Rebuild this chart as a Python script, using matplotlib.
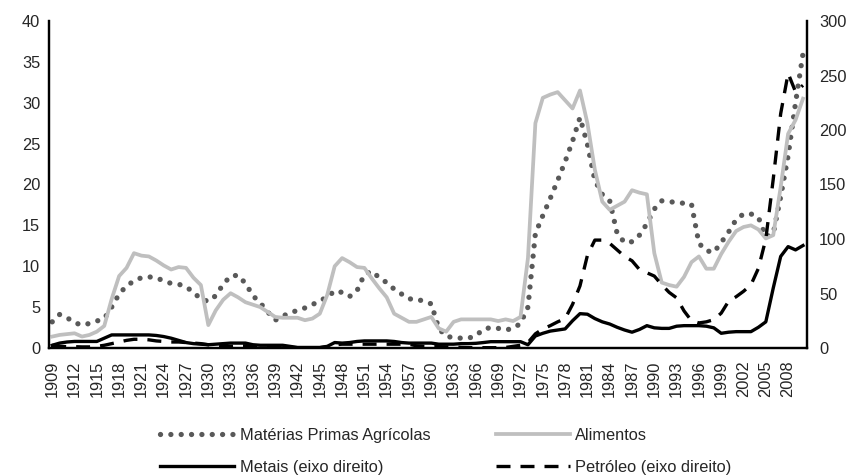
import matplotlib
matplotlib.use("Agg")
import matplotlib.pyplot as plt
from matplotlib.lines import Line2D
import numpy as np

plt.rcParams['font.family'] = ['Liberation Sans', 'DejaVu Sans']

years = list(range(1909, 2011))

materias = [3.2, 4.1, 3.7, 3.1, 2.8, 3.0, 3.3, 3.6, 5.0, 6.6,
            7.6, 8.2, 8.6, 8.7, 8.6, 8.2, 7.9, 7.8, 7.5, 6.8,
            6.0, 5.7, 6.4, 7.8, 8.8, 8.9, 7.9, 6.4, 5.5, 4.4,
            3.4, 3.9, 4.3, 4.6, 4.9, 5.3, 5.8, 6.2, 7.0, 6.8,
            6.3, 7.0, 9.0, 9.4, 8.6, 8.0, 7.2, 6.6, 6.0, 6.0,
            5.7, 5.4, 2.4, 1.4, 1.3, 1.2, 1.2, 1.5, 2.3, 2.5,
            2.4, 2.2, 2.4, 3.0, 5.0, 14.0, 16.2, 18.3, 20.5, 22.8,
            25.3, 28.2, 24.9, 20.5, 18.8, 18.0, 14.0, 12.9, 13.0, 13.8,
            15.2, 17.0, 18.0, 17.9, 17.8, 17.7, 17.6, 12.8, 11.9, 11.7,
            12.9, 14.2, 15.7, 16.4, 16.4, 16.0, 13.6, 14.0, 18.5, 23.5,
            30.0, 36.0]

alimentos = [1.4, 1.6, 1.7, 1.8, 1.4, 1.6, 2.0, 2.7, 6.0, 8.8,
             9.8, 11.6, 11.3, 11.2, 10.7, 10.1, 9.6, 9.9, 9.8, 8.6,
             7.7, 2.8, 4.6, 5.9, 6.7, 6.2, 5.6, 5.3, 5.0, 4.4,
             3.8, 3.7, 3.7, 3.7, 3.4, 3.6, 4.2, 6.5, 10.0, 11.0,
             10.5, 9.9, 9.8, 8.5, 7.3, 6.2, 4.2, 3.7, 3.2, 3.2,
             3.5, 3.8, 2.4, 2.0, 3.2, 3.5, 3.5, 3.5, 3.5, 3.5,
             3.3, 3.5, 3.3, 3.8, 11.0, 27.5, 30.6, 31.0, 31.3, 30.3,
             29.3, 31.5, 27.5, 21.8, 17.9, 16.9, 17.4, 17.9, 19.3, 19.0,
             18.8, 11.6, 8.0, 7.7, 7.5, 8.7, 10.5, 11.2, 9.7, 9.7,
             11.5, 13.0, 14.3, 14.8, 15.0, 14.5, 13.4, 13.8, 19.7, 26.2,
             27.9, 30.5]

metais = [2.5, 4.5, 5.5, 6.0, 6.0, 6.0, 6.0, 9.0, 12.0, 12.0,
          12.0, 12.0, 12.0, 12.0, 11.5, 10.5, 9.0, 7.0, 5.0, 4.0,
          3.5, 3.0, 3.5, 4.0, 4.5, 4.5, 4.5, 3.0, 2.5, 2.5,
          2.5, 2.5, 1.5, 0.5, 0.5, 0.5, 0.5, 1.5, 5.0, 4.5,
          5.0, 6.0, 6.5, 6.5, 6.5, 6.5, 6.0, 5.0, 4.5, 4.5,
          4.5, 4.5, 3.5, 3.5, 3.5, 4.0, 4.0, 4.3, 5.0, 5.8,
          5.8, 5.8, 5.8, 5.8, 3.0, 11.0, 13.5, 15.5, 16.5, 17.5,
          25.0, 31.5, 31.0, 27.0, 24.0, 22.0, 19.0, 16.5, 14.5, 17.0,
          20.5, 18.5, 18.0, 18.0, 20.0, 20.5, 20.5, 20.5, 20.0, 18.5,
          13.5, 14.5, 15.0, 15.0, 15.0, 19.0, 24.0, 55.0, 84.0, 93.0,
          90.0, 94.0]

petroleo = [2.5, 1.5, 1.2, 1.2, 1.0, 1.0, 1.5, 2.5, 4.0, 5.5,
            7.0, 8.0, 8.0, 7.5, 6.5, 6.0, 5.5, 5.5, 5.0, 4.5,
            4.0, 3.0, 2.0, 1.5, 1.5, 2.0, 2.0, 2.0, 2.0, 1.5,
            1.5, 1.0, 0.5, 0.3, 0.3, 0.3, 0.3, 1.0, 3.0, 3.5,
            3.5, 3.5, 3.5, 3.5, 3.5, 3.5, 3.5, 3.5, 3.5, 2.0,
            1.5, 1.2, 1.2, 1.0, 1.0, 0.5, 0.3, 0.3, 0.3, 0.3,
            0.3, 0.5, 1.5, 2.5, 5.0, 13.0, 17.5, 20.5, 24.0, 27.0,
            40.0, 57.0, 85.0, 99.0, 99.0, 96.0, 90.0, 84.0, 80.0, 72.0,
            69.0, 66.0, 58.0, 51.0, 46.0, 34.0, 25.0, 23.0, 24.0, 26.0,
            32.0, 43.0, 47.0, 52.0, 58.0, 73.0, 100.0, 155.0, 215.0, 252.0,
            235.0, 241.0]

labels = ['Matérias Primas Agrícolas', 'Alimentos',
          'Metais (eixo direito)', 'Petróleo (eixo direito)']

left_ticks = [0, 5, 10, 15, 20, 25, 30, 35, 40]
right_ticks = [0, 50, 100, 150, 200, 250, 300]

W, H = 858, 476
fig = plt.figure(figsize=(W / 100, H / 100), dpi=100)
ax = fig.add_axes([48.5 / W, 1 - 348 / H, (806.7 - 48.5) / W, (348 - 21) / H])
ax2 = ax.twinx()

x = np.arange(len(years))
fs = 11.8

dot_style = dict(color='#595959', lw=3.8, linestyle=(0, (0.01, 1.95)),
                 dash_capstyle='round')
food_style = dict(color='#BFBFBF', lw=2.7, solid_joinstyle='round')
met_style = dict(color='black', lw=2.4, solid_joinstyle='round')
pet_style = dict(color='black', lw=2.4, linestyle=(0, (4.2, 3.0)),
                 dash_capstyle='butt')

ax.plot(x, materias, zorder=2, **dot_style)
ax.plot(x, alimentos, zorder=3, **food_style)
ax2.plot(x, metais, zorder=2, **met_style)
ax2.plot(x, petroleo, zorder=3, **pet_style)

ax.set_xlim(-0.5, len(years) - 0.5)
ax.set_ylim(0, 40)
ax2.set_ylim(0, 300)
ax.set_yticks(left_ticks)
ax2.set_yticks(right_ticks)
ax.set_yticklabels([str(t) for t in left_ticks], fontsize=fs, color='#262626')
ax2.set_yticklabels([str(t) for t in right_ticks], fontsize=fs, color='#262626')

tick_idx = [i for i, y in enumerate(years) if (y - 1909) % 3 == 0]
ax.set_xticks(tick_idx)
ax.set_xticklabels([str(years[i]) for i in tick_idx], rotation=90,
                   fontsize=fs, color='#262626')

ax.tick_params(axis='both', length=0)
ax.tick_params(axis='y', pad=6)
ax.tick_params(axis='x', pad=9)
ax2.tick_params(axis='y', length=0, pad=9)

for a in (ax, ax2):
    a.spines['top'].set_visible(False)
    for s in ('left', 'right', 'bottom'):
        a.spines[s].set_linewidth(1.6)
        a.spines[s].set_color('black')

handles = [Line2D([], [], **dot_style), Line2D([], [], **met_style),
           Line2D([], [], **food_style), Line2D([], [], **pet_style)]
hlabels = [labels[0], labels[2], labels[1], labels[3]]
fig.legend(handles, hlabels, ncol=2, loc='upper left',
           bbox_to_anchor=(152 / W, 1 - 420 / H), frameon=False,
           fontsize=fs, handlelength=4.5, handletextpad=0.35,
           columnspacing=4.0, labelspacing=1.0, borderpad=0,
           labelcolor='#262626')

fig.savefig('out.png', dpi=100)
